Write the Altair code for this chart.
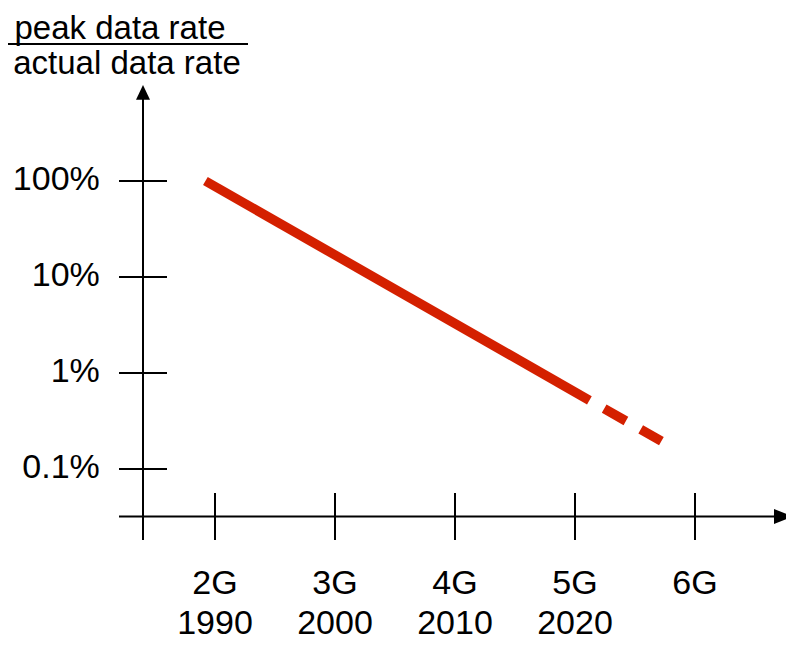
import altair as alt
import pandas as pd

# ---- data ----
line_years_solid = [1989.2, 2021.2]
line_ratio_solid = [100, 0.52]
line_years_dash = [2021.2, 2027.2]
line_ratio_dash = [0.52, 0.195]

gen_labels = ["2G", "3G", "4G", "5G", "6G"]
gen_years = [1990, 2000, 2010, 2020, 2030]
year_labels = ["1990", "2000", "2010", "2020", ""]

y_tick_values = [100, 10, 1, 0.1]
y_tick_labels = ["100%", "10%", "1%", "0.1%"]

title_lines = ["peak data rate", "actual data rate"]

# ---- layout constants (scale domains) ----
W, H = 778, 633
X_DOMAIN = [1972.75, 1972.75 + W / 12]
Y_DOMAIN = [10 ** (3.80208 - H / 96), 10 ** 3.80208]
FONT = "Liberation Sans"
RED = "#d42000"

xs = alt.Scale(domain=X_DOMAIN, nice=False, zero=False)
ys = alt.Scale(type="log", domain=Y_DOMAIN, nice=False)


def X(f):
    return alt.X(f"{f}:Q", scale=xs, axis=None)


def Y(f):
    return alt.Y(f"{f}:Q", scale=ys, axis=None)


# axis crossing positions (data units)
Y_AXIS_YEAR = 1984
X_AXIS_RATIO = 0.032

solid = alt.Chart(pd.DataFrame({"year": line_years_solid, "ratio": line_ratio_solid})).mark_line(
    color=RED, strokeWidth=9.5, strokeCap="butt"
).encode(x=X("year"), y=Y("ratio"))

dashed = alt.Chart(pd.DataFrame({"year": line_years_dash, "ratio": line_ratio_dash})).mark_line(
    color=RED, strokeWidth=9.5, strokeCap="butt", strokeDash=[25, 17], strokeDashOffset=25
).encode(x=X("year"), y=Y("ratio"))

# axis lines
y_axis = alt.Chart(pd.DataFrame({"year": [Y_AXIS_YEAR], "r1": [0.0182], "r2": [715]})).mark_rule(
    color="black", strokeWidth=2
).encode(x=X("year"), y=Y("r1"), y2="r2:Q")

x_axis = alt.Chart(pd.DataFrame({"y1": [1982], "y2": [2036.7], "ratio": [X_AXIS_RATIO]})).mark_rule(
    color="black", strokeWidth=2
).encode(x=X("y1"), x2="y2:Q", y=Y("ratio"))

y_arrow = alt.Chart(pd.DataFrame({"year": [Y_AXIS_YEAR], "ratio": [832]})).mark_point(
    shape="M-1,1L0,-1.1L1,1Z", filled=True, size=196, color="black", opacity=1, strokeWidth=0
).encode(x=X("year"), y=Y("ratio"))

x_arrow = alt.Chart(pd.DataFrame({"year": [2037.375], "ratio": [X_AXIS_RATIO]})).mark_point(
    shape="M-1.27,-1L1.27,0L-1.27,1Z", filled=True, size=225, color="black", opacity=1, strokeWidth=0
).encode(x=X("year"), y=Y("ratio"))

# ticks
y_ticks = alt.Chart(pd.DataFrame({"ratio": y_tick_values, "a": 1982, "b": 1986})).mark_rule(
    color="black", strokeWidth=2
).encode(x=X("a"), x2="b:Q", y=Y("ratio"))

x_ticks = alt.Chart(pd.DataFrame({"year": gen_years, "r1": 0.0182, "r2": 0.0562})).mark_rule(
    color="black", strokeWidth=2
).encode(x=X("year"), y=Y("r1"), y2="r2:Q")

# tick labels
y_labels = alt.Chart(pd.DataFrame({"ratio": y_tick_values, "label": y_tick_labels, "year": 1980.4})).mark_text(
    align="right", baseline="middle", fontSize=34, font=FONT, color="black", dy=-1
).encode(x=X("year"), y=Y("ratio"), text="label:N")

gen_text = alt.Chart(pd.DataFrame({"year": gen_years, "label": gen_labels, "ratio": 0.00634})).mark_text(
    align="center", baseline="middle", fontSize=34, font=FONT, color="black"
).encode(x=X("year"), y=Y("ratio"), text="label:N")

year_text = alt.Chart(pd.DataFrame({"year": gen_years, "label": year_labels, "ratio": 0.00243})).mark_text(
    align="center", baseline="middle", fontSize=34, font=FONT, color="black"
).encode(x=X("year"), y=Y("ratio"), text="label:N")

# axis title (fraction)
one = pd.DataFrame({"k": [0]})
t1 = alt.Chart(one).mark_text(
    text=title_lines[0], align="center", baseline="alphabetic", fontSize=33, font=FONT, color="black"
).encode(x=alt.value(112), y=alt.value(30.5))
t2 = alt.Chart(one).mark_text(
    text=title_lines[1], align="center", baseline="alphabetic", fontSize=33, font=FONT, color="black"
).encode(x=alt.value(119), y=alt.value(66))
bar = alt.Chart(one).mark_rule(color="black", strokeWidth=2).encode(
    x=alt.value(0), x2=alt.value(240), y=alt.value(36)
)

chart = alt.layer(
    x_axis, y_axis, x_arrow, y_arrow, y_ticks, x_ticks,
    y_labels, gen_text, year_text, t1, t2, bar, solid, dashed
).properties(
    width=W, height=H, padding=0, autosize=alt.AutoSizeParams(type="none")
).configure_view(stroke=None)

chart.save("out.html", embed_options={"renderer": "svg", "actions": False})
